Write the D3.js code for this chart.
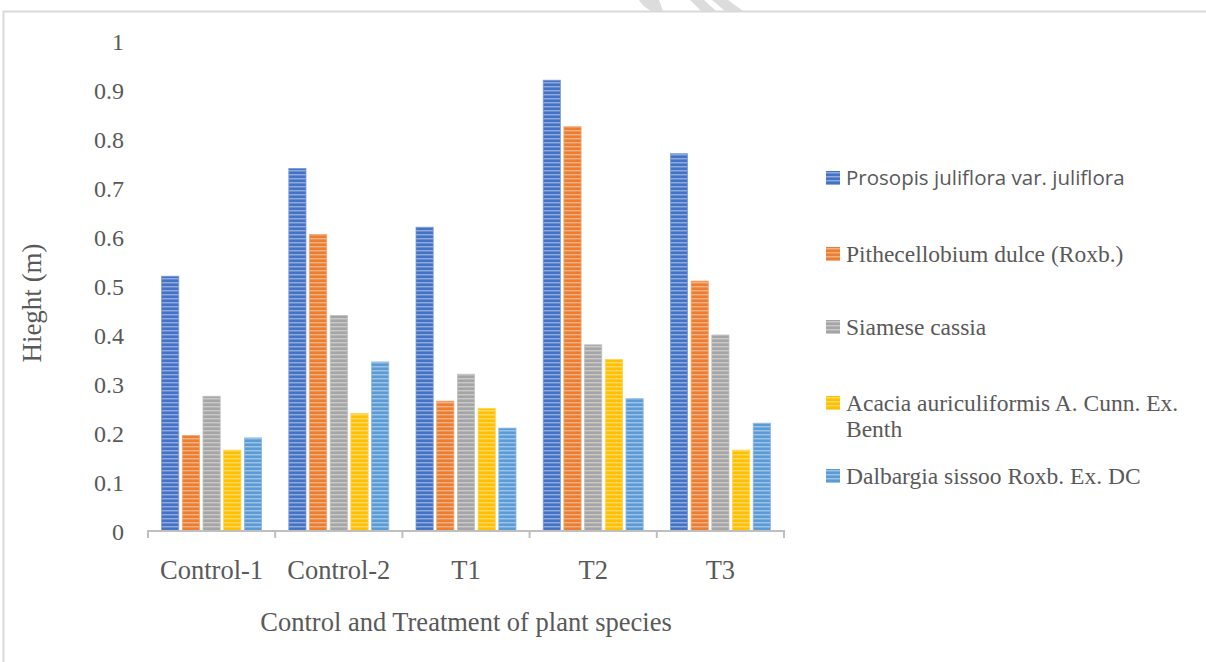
<!DOCTYPE html>
<html>
<head>
<meta charset="utf-8">
<script src="https://cdn.jsdelivr.net/npm/d3@7"></script>
<style>
  html, body { margin: 0; padding: 0; background: #fff; }
  svg { display: block; }
</style>
</head>
<body>
<svg id="chart" width="1206" height="662"></svg>
<script>
// Treatment groups along the x axis
const groups = ["Control-1", "Control-2", "T1", "T2", "T3"];

// Plant species (legend entries)
const species = [
  "Prosopis juliflora var. juliflora",
  "Pithecellobium dulce (Roxb.)",
  "Siamese cassia",
  "Acacia auriculiformis A. Cunn. Ex. Benth",
  "Dalbargia sissoo Roxb. Ex. DC"
];

// Height (m) per species, one value per group
const prosopis       = [0.52, 0.74, 0.62, 0.92, 0.77];
const pithecellobium = [0.195, 0.605, 0.265, 0.825, 0.51];
const siamese        = [0.275, 0.44, 0.32, 0.38, 0.40];
const acacia         = [0.165, 0.24, 0.25, 0.35, 0.165];
const dalbargia      = [0.19, 0.345, 0.21, 0.27, 0.22];

const seriesValues = [prosopis, pithecellobium, siamese, acacia, dalbargia];
const yTicks = [0, 0.1, 0.2, 0.3, 0.4, 0.5, 0.6, 0.7, 0.8, 0.9, 1];

const colors = ["#4472C4", "#ED7D31", "#A5A5A5", "#FFC000", "#5B9BD5"];

const svg = d3.select("#chart");
const textColor = "#595959";
const serif = "'Liberation Serif', 'Times New Roman', serif";

// Faint watermark fragments above the frame
svg.append("g").attr("fill", "#DCDCDC")
  .selectAll("path")
  .data([
    "M639,0 L659,0 L663,11 L651,11 Q642,6 639,0 Z",
    "M690,0 L704,0 L716,11 L701,11 Z",
    "M712,0 L728,0 L743,11 L725,11 Z"
  ])
  .join("path")
  .attr("d", d => d);

// Outer frame
svg.append("path")
  .attr("d", "M3.5,662 L3.5,11.5 L1206,11.5")
  .attr("fill", "none")
  .attr("stroke", "#D9D9D9")
  .attr("stroke-width", 2);

// Striped fills for the bars
const defs = svg.append("defs");
colors.forEach((c, i) => {
  const light = d3.interpolateRgb(c, "#ffffff")(0.4);
  const mid = d3.interpolateRgb(c, "#ffffff")(0.18);
  const p = defs.append("pattern")
    .attr("id", "stripe" + i)
    .attr("patternUnits", "userSpaceOnUse")
    .attr("width", 8).attr("height", 4);
  p.append("rect").attr("width", 8).attr("height", 4).attr("fill", c);
  p.append("rect").attr("y", 2).attr("width", 8).attr("height", 1).attr("fill", light);
  p.append("rect").attr("y", 3).attr("width", 8).attr("height", 1).attr("fill", mid);
});

// Scales
const x0 = d3.scaleBand()
  .domain(groups)
  .range([148, 784])
  .paddingInner(0.214)
  .paddingOuter(0.107);

const x1 = d3.scaleBand()
  .domain(d3.range(species.length))
  .range([0, x0.bandwidth()])
  .paddingInner(0.17);

const y = d3.scaleLinear().domain([0, 1]).range([531, 41]);

// Bars
const gGroups = svg.append("g").selectAll("g")
  .data(groups)
  .join("g")
  .attr("transform", d => `translate(${x0(d)},0)`);

gGroups.selectAll("rect")
  .data((g, gi) => seriesValues.map((vals, si) => ({ si, v: vals[gi] })))
  .join("rect")
  .attr("x", d => x1(d.si))
  .attr("width", x1.bandwidth())
  .attr("y", d => y(d.v))
  .attr("height", d => y(0) - y(d.v))
  .attr("fill", d => `url(#stripe${d.si})`)
  .attr("stroke", d => d3.interpolateRgb(colors[d.si], "#ffffff")(0.3))
  .attr("stroke-width", 0.8);

// Y axis (labels only)
const yAxis = svg.append("g")
  .attr("transform", "translate(124,0)")
  .call(d3.axisLeft(y).tickValues(yTicks).tickSize(0).tickPadding(0)
    .tickFormat(d => d3.format("")(+d.toFixed(1))));
yAxis.select(".domain").remove();
yAxis.selectAll("text")
  .attr("font-family", serif)
  .attr("font-size", 24)
  .attr("fill", textColor)
  .attr("dy", "0.36em");

// X axis
const xAxis = svg.append("g")
  .attr("transform", `translate(0,${y(0)})`)
  .call(d3.axisBottom(x0).tickSize(0).tickPadding(29));
xAxis.select(".domain")
  .attr("d", `M${x0.range()[0]},7V0H${x0.range()[1]}V7`)
  .attr("stroke", "#BFBFBF")
  .attr("stroke-width", 2)
  .attr("fill", "none");
xAxis.selectAll("text")
  .attr("font-family", serif)
  .attr("font-size", 26.5)
  .attr("fill", textColor)
  .attr("dy", "0.71em");

// Boundary ticks between groups
const boundaries = groups.slice(1).map(g => x0(g) - x0.step() * x0.paddingInner() / 2);
xAxis.selectAll("line.sep")
  .data(boundaries)
  .join("line")
  .attr("class", "sep")
  .attr("x1", d => d).attr("x2", d => d)
  .attr("y1", 0).attr("y2", 7)
  .attr("stroke", "#BFBFBF")
  .attr("stroke-width", 2);

// Axis titles
svg.append("text")
  .attr("x", 466).attr("y", 631)
  .attr("text-anchor", "middle")
  .attr("font-family", serif)
  .attr("font-size", 26.5)
  .attr("fill", textColor)
  .text("Control and Treatment of plant species");

svg.append("text")
  .attr("transform", "translate(41,303) rotate(-90)")
  .attr("text-anchor", "middle")
  .attr("font-family", serif)
  .attr("font-size", 27)
  .attr("fill", textColor)
  .text("Hieght (m)");

// Legend
const legendItems = [
  { lines: ["Prosopis juliflora var. juliflora"], y: 178, sans: true },
  { lines: ["Pithecellobium dulce (Roxb.)"], y: 254 },
  { lines: ["Siamese cassia"], y: 327 },
  { lines: ["Acacia auriculiformis A. Cunn. Ex.", "Benth"], y: 403 },
  { lines: ["Dalbargia sissoo Roxb. Ex. DC"], y: 476 }
];

const lg = svg.append("g").selectAll("g")
  .data(legendItems)
  .join("g")
  .attr("transform", d => `translate(826,${d.y})`);

lg.append("rect")
  .attr("x", 0).attr("y", -7)
  .attr("width", 14).attr("height", 14)
  .attr("fill", (d, i) => `url(#stripe${i})`);

lg.append("text")
  .attr("x", 20)
  .attr("font-family", d => d.sans ? "'Open Sans', 'Noto Sans', sans-serif" : serif)
  .attr("font-size", d => d.sans ? 20.5 : 23.5)
  .attr("fill", textColor)
  .selectAll("tspan")
  .data(d => d.lines)
  .join("tspan")
  .attr("x", 20)
  .attr("dy", (d, i) => i === 0 ? "0.35em" : "1.1em")
  .text(d => d);
</script>
</body>
</html>
